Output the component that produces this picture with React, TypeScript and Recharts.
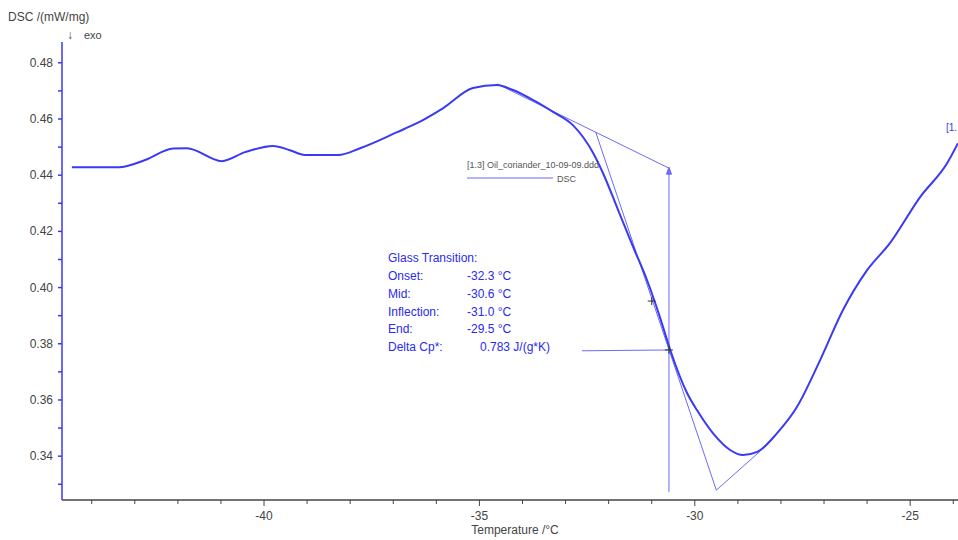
import React from 'react'
import { ComposedChart, Line, XAxis, YAxis, ReferenceLine, ReferenceDot } from 'recharts'

// DSC curve (temperature in °C, DSC in mW/mg)
const temps = [
  -44.46, -43.37, -42.76, -42.11, -41.79, -40.98, -40.44, -39.79, -39.4, -39.05,
  -38.28, -37.77, -36.91, -36.45, -35.84, -35.15, -34.59, -34.22, -33.75, -33.29,
  -32.83, -32.36, -32.13, -31.78, -31.43, -31.11, -30.81, -30.57, -30.18, -29.95,
  -29.58, -29.18, -28.88, -28.55, -28.09, -27.63, -27.09, -26.56, -26.0, -25.47,
  -24.77, -24.14, -23.89,
]
const dsc = [
  0.4428, 0.4428, 0.4454, 0.4495, 0.4496, 0.445, 0.4482, 0.4504, 0.4489, 0.4472,
  0.4472, 0.4496, 0.4553, 0.4585, 0.4639, 0.471, 0.4721, 0.4703, 0.4667, 0.4625,
  0.4578, 0.4479, 0.4407, 0.4276, 0.4144, 0.4027, 0.3895, 0.3778, 0.3625, 0.3564,
  0.3482, 0.3422, 0.3404, 0.3415, 0.3482, 0.3575, 0.3742, 0.392, 0.4062, 0.4158,
  0.4322, 0.4443, 0.4514,
]

const xTicks = [-44, -43, -42, -41, -40, -39, -38, -37, -36, -35, -34, -33, -32, -31, -30, -29, -28, -27, -26, -25, -24]
const xMajor = [-40, -35, -30, -25]
const yTicks = [0.33, 0.34, 0.35, 0.36, 0.37, 0.38, 0.39, 0.4, 0.41, 0.42, 0.43, 0.44, 0.45, 0.46, 0.47, 0.48]
const yMajor = [0.34, 0.36, 0.38, 0.4, 0.42, 0.44, 0.46, 0.48]

// glass transition evaluation
const baselineBefore = [{ x: -34.59, y: 0.4725 }, { x: -30.6, y: 0.4425 }]
const inflectionTangent = [{ x: -32.3, y: 0.4553 }, { x: -29.5, y: 0.3279 }]
const baselineAfter = [{ x: -29.5, y: 0.3279 }, { x: -28.48, y: 0.3418 }]
const midLine = [{ x: -30.6, y: 0.4425 }, { x: -30.6, y: 0.3272 }]
const deltaCpLine = [{ x: -32.62, y: 0.3775 }, { x: -30.6, y: 0.3778 }]
const inflectionPoint = { x: -31.0, y: 0.3952 }
const midPoint = { x: -30.6, y: 0.3778 }

const results = [
  ['Onset:', '-32.3 °C'],
  ['Mid:', '-30.6 °C'],
  ['Inflection:', '-31.0 °C'],
  ['End:', '-29.5 °C'],
]

const data = temps.map((t, i) => ({ t, dsc: dsc[i] }))

const BLUE = '#3a3af5'
const THIN = '#6b6bfa'
const GREY = '#444'
const FONT = '"Liberation Sans", Arial, sans-serif'

const isMajor = (v: number, list: number[]) => list.some(m => Math.abs(m - v) < 1e-6)

const XTick = (props: any) => {
  const { x, y, payload } = props
  const major = isMajor(payload.value, xMajor)
  return (
    <g>
      <line x1={x} y1={y} x2={x} y2={y + (major ? 6 : 4)} stroke="#444" strokeWidth={1} />
      {major && (
        <text x={x} y={y + 20} textAnchor="middle" fill={GREY} fontSize={12} fontFamily={FONT}>
          {payload.value}
        </text>
      )}
    </g>
  )
}

const YTick = (props: any) => {
  const { x, y, payload } = props
  const major = isMajor(payload.value, yMajor)
  return (
    <g>
      <line x1={x - 4} y1={y} x2={x} y2={y} stroke={BLUE} strokeWidth={1.5} />
      {major && (
        <text x={x - 9} y={y + 4} textAnchor="end" fill={GREY} fontSize={12} fontFamily={FONT}>
          {payload.value.toFixed(2)}
        </text>
      )}
    </g>
  )
}

const Cross = (props: any) => {
  const { cx, cy } = props
  return (
    <path d={`M${cx - 4},${cy}H${cx + 4}M${cx},${cy - 4}V${cy + 4}`} stroke="#333" strokeWidth={1} />
  )
}

const ArrowUp = (props: any) => {
  const { cx, cy } = props
  return <path d={`M${cx},${cy - 1}L${cx - 2.5},${cy + 6}L${cx + 2.5},${cy + 6}Z`} fill={THIN} stroke={THIN} />
}

export default function App() {
  return (
    <div style={{ position: 'absolute', left: 0, top: 0, width: 958, height: 540, background: '#fff' }}>
      <ComposedChart
        width={958}
        height={540}
        data={data}
        margin={{ top: 42, right: 0, bottom: 0, left: 0 }}
      >
        <XAxis
          dataKey="t"
          type="number"
          domain={[-44.69, -23.89]}
          ticks={xTicks}
          interval={0}
          allowDataOverflow
          height={40}
          tickLine={false}
          tickSize={0}
          tickMargin={0}
          tick={<XTick />}
          axisLine={{ stroke: '#444', strokeWidth: 1.5 }}
        />
        <YAxis
          type="number"
          domain={[0.3244, 0.4874]}
          ticks={yTicks}
          interval={0}
          allowDataOverflow
          width={62}
          tickLine={false}
          tickSize={0}
          tickMargin={0}
          tick={<YTick />}
          axisLine={{ stroke: BLUE, strokeWidth: 1.5 }}
        />
        <ReferenceLine segment={baselineBefore} stroke={THIN} strokeWidth={1} ifOverflow="visible" />
        <ReferenceLine segment={inflectionTangent} stroke={THIN} strokeWidth={1} ifOverflow="visible" />
        <ReferenceLine segment={baselineAfter} stroke={THIN} strokeWidth={1} ifOverflow="visible" />
        <ReferenceLine segment={midLine} stroke={THIN} strokeWidth={1} ifOverflow="visible" />
        <ReferenceLine segment={deltaCpLine} stroke={THIN} strokeWidth={1} ifOverflow="visible" />
        <Line
          dataKey="dsc"
          type="monotone"
          stroke={BLUE}
          strokeWidth={2}
          dot={false}
          isAnimationActive={false}
        />
        <ReferenceDot x={midLine[0].x} y={midLine[0].y} r={3} shape={<ArrowUp />} ifOverflow="visible" />
        <ReferenceDot x={inflectionPoint.x} y={inflectionPoint.y} r={4} shape={<Cross />} />
        <ReferenceDot x={midPoint.x} y={midPoint.y} r={4} shape={<Cross />} />
      </ComposedChart>
      <svg
        width={958}
        height={540}
        style={{ position: 'absolute', left: 0, top: 0, pointerEvents: 'none' }}
        fontFamily={FONT}
      >
        <text x={8} y={21} fontSize={12} fill={GREY}>DSC /(mW/mg)</text>
        <text x={67} y={39} fontSize={12} fill={GREY}>↓</text>
        <text x={84} y={39} fontSize={11} fill={GREY}>exo</text>
        <text x={515} y={534} fontSize={12} fill={GREY} textAnchor="middle">Temperature /°C</text>

        <text x={467} y={168} fontSize={9} fill="#555">[1.3] Oil_coriander_10-09-09.ddd</text>
        <line x1={467} y1={178} x2={553} y2={178} stroke={THIN} strokeWidth={1} />
        <text x={557} y={182} fontSize={9} fill="#555">DSC</text>
        <text x={946} y={131} fontSize={10} fill={BLUE}>[1.</text>

        <g fill="#2a2af0" fontSize={12}>
          <text x={388} y={262}>Glass Transition:</text>
          {results.map(([k, v], i) => (
            <g key={k}>
              <text x={388} y={280 + i * 17.8}>{k}</text>
              <text x={467} y={280 + i * 17.8}>{v}</text>
            </g>
          ))}
          <text x={388} y={351}>Delta Cp*:</text>
          <text x={480} y={351}>0.783 J/(g*K)</text>
        </g>
      </svg>
    </div>
  )
}
